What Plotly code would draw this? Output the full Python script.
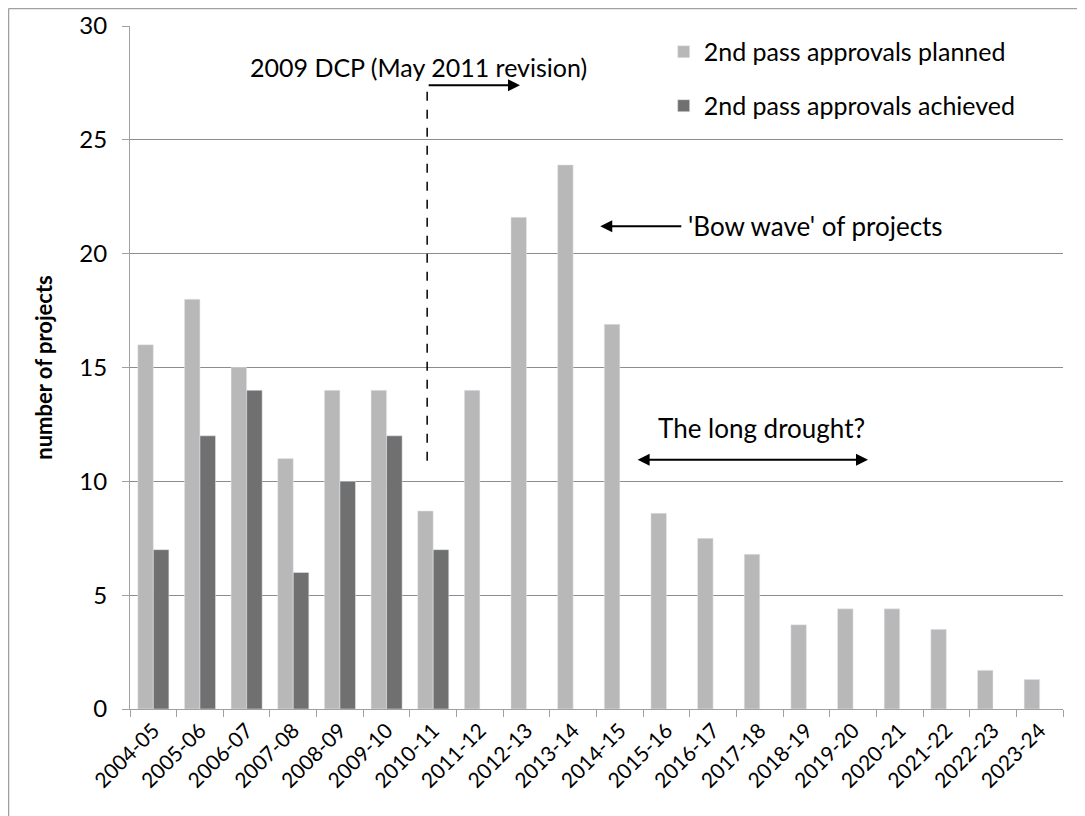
import plotly.graph_objects as go

years = ["2004-05", "2005-06", "2006-07", "2007-08", "2008-09", "2009-10", "2010-11",
         "2011-12", "2012-13", "2013-14", "2014-15", "2015-16", "2016-17", "2017-18",
         "2018-19", "2019-20", "2020-21", "2021-22", "2022-23", "2023-24"]
planned = [16, 18, 15, 11, 14, 14, 8.7, 14, 21.6, 23.9, 16.9, 8.6, 7.5, 6.8,
           3.7, 4.4, 4.4, 3.5, 1.7, 1.3]
achieved = [7, 12, 14, 6, 10, 12, 7] + [None] * 13

font = "Lato, 'Open Sans', sans-serif"

fig = go.Figure()
fig.add_trace(go.Bar(x=years, y=planned, name="2nd pass approvals planned",
                     marker_color="#b8b8b8", legend="legend", showlegend=True))
fig.add_trace(go.Bar(x=years, y=achieved, name="2nd pass approvals achieved",
                     marker_color="#707070", legend="legend2", showlegend=True))

# page body has an 8px margin, so the figure is shrunk to fit
fig.update_layout(
    width=1077, height=808,
    margin=dict(l=122, r=22, t=18, b=107, autoexpand=False),
    paper_bgcolor="white", plot_bgcolor="white",
    font=dict(family=font, color="black"),
    showlegend=True,
    barmode="group", bargap=1/3, bargroupgap=0,
    legend=dict(x=0.572, y=0.962, xanchor="left", yanchor="middle",
                font=dict(size=25), bgcolor="rgba(0,0,0,0)"),
    legend2=dict(x=0.572, y=0.883, xanchor="left", yanchor="middle",
                 font=dict(size=25), bgcolor="rgba(0,0,0,0)"),
    xaxis=dict(type="category", tickangle=-45, tickfont=dict(size=21), showline=True,
               linecolor="#a0a0a0", ticks="outside", tickson="boundaries", ticklen=7,
               tickcolor="#a0a0a0", range=[-0.5, 19.5], automargin=False),
    yaxis=dict(range=[0, 30], dtick=5, tickfont=dict(size=24), showline=True,
               linecolor="#a0a0a0", ticks="outside", ticklen=7, tickcolor="#a0a0a0",
               showgrid=True, gridcolor="#8c8c8c", gridwidth=1, zeroline=False,
               ticklabelstandoff=10, automargin=False,
               title=dict(text="<b>number of projects</b>", font=dict(size=22), standoff=20)),
    shapes=[
        dict(type="line", xref="paper", yref="paper", x0=-0.1302, x1=-0.1302,
             y0=-0.2, y1=1.0256, line=dict(color="#a0a0a0", width=1.5)),
        dict(type="line", xref="paper", yref="paper", x0=-0.1302, x1=1.05,
             y0=1.0256, y1=1.0256, line=dict(color="#a0a0a0", width=1.5)),
        dict(type="line", xref="x", yref="y", x0=5.87, x1=5.87, y0=10.9, y1=27.4,
             line=dict(color="black", width=1.5, dash="dash")),
    ],
    annotations=[
        dict(x=5.68, y=28.2, xref="x", yref="y", text="2009 DCP (May 2011 revision)",
             showarrow=False, font=dict(size=25)),
        dict(x=7.86, y=27.4, ax=5.87, ay=27.4, xref="x", yref="y", axref="x", ayref="y",
             text="", showarrow=True, arrowhead=2, arrowsize=1.2, arrowwidth=2, arrowcolor="black"),
        dict(x=9.58, y=21.2, ax=11.35, ay=21.2, xref="x", yref="y", axref="x", ayref="y",
             text="", showarrow=True, arrowhead=2, arrowsize=1.2, arrowwidth=2, arrowcolor="black"),
        dict(x=11.42, y=21.2, xref="x", yref="y", text="'Bow wave' of projects",
             showarrow=False, xanchor="left", font=dict(size=26)),
        dict(x=15.32, y=10.95, ax=10.35, ay=10.95, xref="x", yref="y", axref="x", ayref="y",
             text="", showarrow=True, arrowhead=2, startarrowhead=2, arrowside="end+start",
             arrowsize=1.2, startarrowsize=1.2, arrowwidth=2, arrowcolor="black"),
        dict(x=13.03, y=12.34, xref="x", yref="y", text="The long drought?",
             showarrow=False, font=dict(size=26)),
    ],
)

fig.write_html("out.html")
